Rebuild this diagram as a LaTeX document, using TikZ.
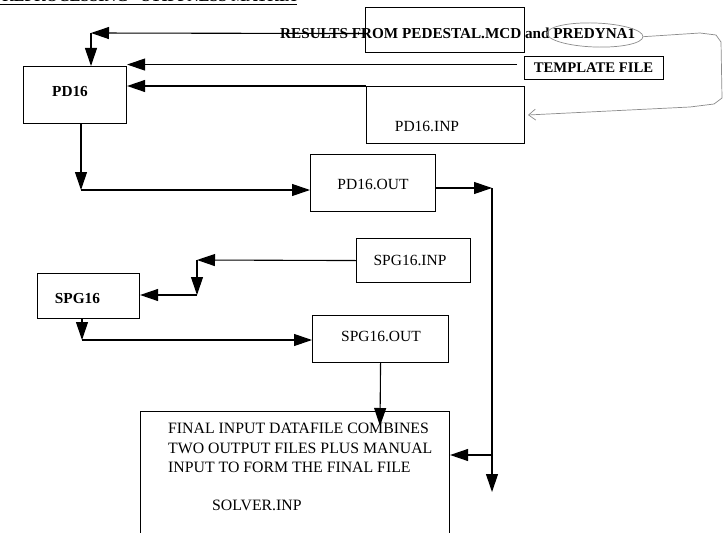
\documentclass[tikz,border=0pt]{standalone}
\usepackage{fontspec}
\setmainfont{Liberation Serif}
\usetikzlibrary{arrows.meta,shapes.geometric}
\begin{document}
\begin{tikzpicture}[x=1pt,y=-1pt,
  box/.style={draw, line width=1.1pt, inner sep=0pt, anchor=north west},
  lbl/.style={font=\fontsize{15.5}{19.5}\selectfont, inner sep=0pt},
  blbl/.style={font=\fontsize{15.3}{19.5}\selectfont\bfseries, inner sep=0pt},
  arr/.style={line width=1.1pt, -{Triangle[length=18pt,width=12pt]}},
  pencil/.style={draw=black!45, line width=0.7pt}]
\useasboundingbox (0,0) rectangle (727,532);
\clip (0,0) rectangle (727,532);
\fill[white] (0,0) rectangle (727,532);

% title (cut off at the top, as in the reference)
\node[font=\fontsize{16}{19}\selectfont\bfseries, inner sep=0pt, anchor=base east] (title) at (297,2) {PREPROCESSING - STIFFNESS MATRIX};
\draw[line width=1pt] ([yshift=-2.5pt]title.base west) -- ([yshift=-2.5pt]title.base east);

% boxes
\node[box, minimum width=159pt, minimum height=45pt] (resbox) at (365,7) {};
\node[box, minimum width=139pt, minimum height=23pt] (tmpl) at (524,56) {};
\node[box, minimum width=103pt, minimum height=57pt] (pd16) at (23,66) {};
\node[box, minimum width=158pt, minimum height=57pt] (pdinp) at (366,86) {};
\node[box, minimum width=125pt, minimum height=57pt] (pdout) at (310,154) {};
\node[box, minimum width=114pt, minimum height=44pt] (spginp) at (356,238) {};
\node[box, minimum width=102pt, minimum height=45pt] (spg16) at (37,273) {};
\node[box, minimum width=136pt, minimum height=47pt] (spgout) at (312,315) {};
\node[box, minimum width=309pt, minimum height=140pt] (final) at (140,411) {};

% texts
\node[blbl, font=\fontsize{15.2}{19}\selectfont\bfseries, anchor=west] (restext) at (280,33) {RESULTS FROM PEDESTAL.MCD and PREDYNA1};
\node[blbl, font=\fontsize{14.7}{19}\selectfont\bfseries] (tmpltext) at (593.5,68) {TEMPLATE FILE};
\node[blbl] (pd16text) at (70,92) {PD16};
\node[lbl] (pdinptext) at (427,126) {PD16.INP};
\node[lbl] (pdouttext) at (373,184) {PD16.OUT};
\node[lbl] (spginptext) at (410,260) {SPG16.INP};
\node[blbl] (spg16text) at (77.5,299) {SPG16};
\node[lbl] (spgouttext) at (381,336) {SPG16.OUT};
\node[lbl, font=\fontsize{15.8}{19.5}\selectfont, align=left, anchor=north west] (finaltext) at (168,423)
  {FINAL INPUT DATAFILE COMBINES\\TWO OUTPUT FILES PLUS MANUAL\\INPUT TO FORM THE FINAL FILE};
\node[lbl, font=\fontsize{15.8}{19.5}\selectfont, anchor=west] (solver) at (212,505) {SOLVER.INP};

% pencil annotation
\node[pencil, ellipse, minimum width=96pt, minimum height=24pt, inner sep=0pt, rotate=-2] (circ) at (595,35) {};
\coordinate (penend) at (528,115);
\draw[pencil, -{Straight Barb[length=7pt,width=11pt]}]
  (circ.east) -- (700,33) -- (716,35) -- (721,42) -- (722,98) -- (714,104) -- (690,107) -- (penend);

% connectors
\coordinate (a1) at (91,33);
\draw[arr] ([yshift=-3.5pt]resbox.west) -- (a1);
\draw[arr] (a1) -- (a1 |- pd16.north);

\coordinate (t0) at ([xshift=-7pt,yshift=3.5pt]tmpl.west);
\draw[arr] (t0) -- (t0 -| pd16.east);

\draw[arr] (pdinp.north west) -- (pdinp.north west -| pd16.east);

\coordinate (a2) at (81,190);
\draw[arr] (a2 |- pd16.south) -- (a2);
\draw[arr] (a2) -- (a2 -| pdout.west);

\coordinate (a3) at (492,188);
\coordinate (a4) at (492,492);
\coordinate (a5) at (492,455);
\draw[arr] (pdout.east |- a3) -- (a3);
\draw[arr] (a3) -- (a4);
\draw[arr] (a5) -- (a5 -| final.east);

\coordinate (b1) at (197,260);
\coordinate (b2) at (197,295);
\draw[arr] (spginp.west) -- (b1);
\draw[arr] (b1) -- (b2);
\draw[arr] (b2) -- (b2 -| spg16.east);

\coordinate (b3) at (82,340);
\draw[arr] (b3 |- spg16.south) -- (b3);
\draw[arr] (b3) -- (b3 -| spgout.west);

\coordinate (b4) at (380,426);
\draw[arr] (spgout.south) -- (b4);
\end{tikzpicture}
\end{document}
